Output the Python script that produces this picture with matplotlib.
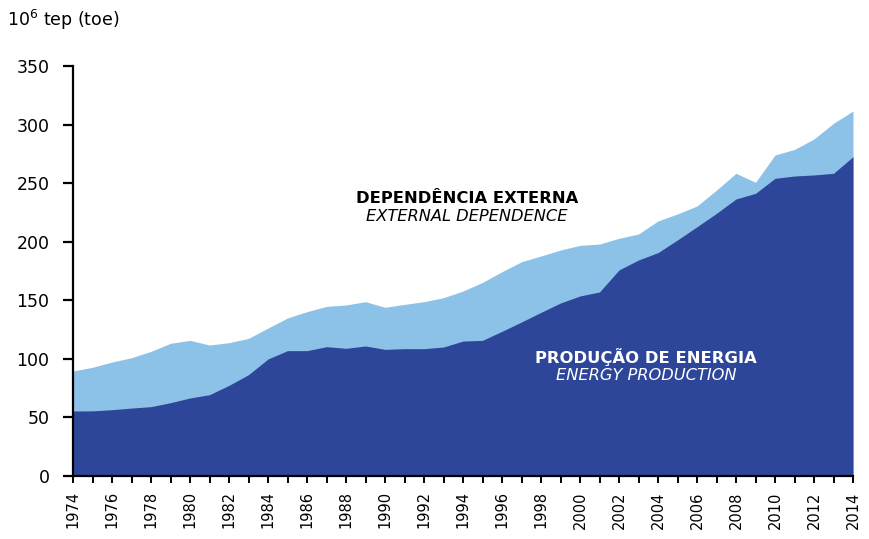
import numpy as np
import matplotlib.pyplot as plt

# Years 1974 .. 2014
years = list(range(1974, 2015))

# energy production (10^6 toe)
production = [55.5, 55.6, 56.6, 58.0, 59.2, 62.6, 66.6, 69.4, 77.4, 86.5,
              99.9, 107.0, 107.0, 110.4, 109.0, 111.0, 108.1, 108.7, 108.7, 110.1,
              115.2, 115.8, 123.5, 131.5, 139.7, 147.7, 153.7, 157.1, 175.9, 184.4,
              190.7, 201.5, 212.8, 224.2, 236.5, 241.3, 254.1, 256.1, 257.0, 258.4,
              272.6]

# total supply = production + external dependence
total = [89.6, 92.8, 97.3, 101.0, 106.4, 113.3, 115.8, 111.8, 113.8, 117.5,
         126.3, 134.9, 140.3, 144.8, 146.0, 148.8, 144.0, 146.5, 148.8, 152.2,
         157.9, 165.3, 174.4, 182.9, 187.8, 192.9, 196.9, 198.0, 202.9, 206.6,
         217.7, 223.7, 230.5, 244.1, 258.4, 250.7, 274.0, 278.8, 287.7, 301.1,
         311.6]

yticks = [0, 50, 100, 150, 200, 250, 300, 350]
xticks = list(range(1974, 2015, 2))

DARK = "#2E4699"
LIGHT = "#8DC2E8"

fig = plt.figure(figsize=(8.7, 5.39), dpi=100)
ax = fig.add_axes([73/870, 63/539, 780/870, 410/539])

ax.fill_between(years, 0, total, color=LIGHT, linewidth=0)
ax.fill_between(years, 0, production, color=DARK, linewidth=0)

ax.set_xlim(1974, 2014)
ax.set_ylim(0, 350)
ax.set_yticks(yticks)
ax.set_xticks(years)
ax.set_xticklabels([str(y) if y in xticks else "" for y in years], rotation=90)

for s in ["top", "right"]:
    ax.spines[s].set_visible(False)
for s in ["left", "bottom"]:
    ax.spines[s].set_linewidth(1.6)

ax.tick_params(axis="y", length=7, width=1.6, labelsize=12.5, pad=10)
ax.tick_params(axis="x", length=5, width=1.4, labelsize=10.5, pad=6)

fig.text(7/870, 1 - 20/539, r"10$^6$ tep (toe)", fontsize=12.5, va="center", ha="left")

ax.text(1994.2, 236.5, "DEPENDÊNCIA EXTERNA", fontsize=11.8, fontweight="bold",
        ha="center", va="center", color="black")
ax.text(1994.2, 221.1, "EXTERNAL DEPENDENCE", fontsize=11.7, style="italic",
        ha="center", va="center", color="black")
ax.text(2003.4, 101.6, "PRODUÇÃO DE ENERGIA", fontsize=11.8, fontweight="bold",
        ha="center", va="center", color="white")
ax.text(2003.4, 86.2, "ENERGY PRODUCTION", fontsize=11.7, style="italic",
        ha="center", va="center", color="white")

fig.savefig("out.png", dpi=100)
